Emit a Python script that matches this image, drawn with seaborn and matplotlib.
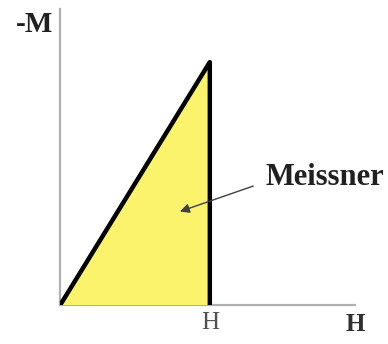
import matplotlib
matplotlib.use("Agg")
import matplotlib.pyplot as plt
import seaborn as sns
import pandas as pd

# Meissner state: -M rises linearly with H up to the critical field Hc
field = [0.0, 1.0, 1.0]        # H (in units of Hc)
neg_m = [0.0, 1.0, 0.0]        # -M (in units of -M at Hc)
hc_tick = [1.0]
hc_label = ["H"]

sns.set_style("white")
plt.rcParams['font.family'] = ['Liberation Serif', 'DejaVu Serif']

df = pd.DataFrame({"H": field, "negM": neg_m})

fig = plt.figure(figsize=(3.88, 3.44), dpi=100)
ax = fig.add_axes([0.155, 0.113, 0.760, 0.862])

ax.fill(df["H"], df["negM"], color="#faf36b", zorder=1)
sns.lineplot(data=df, x="H", y="negM", sort=False, estimator=None,
             color="black", linewidth=3.2, ax=ax, zorder=3)

ax.set_xlim(0, 1.97)
ax.set_ylim(0, 1.22)

for side in ["top", "right"]:
    ax.spines[side].set_visible(False)
for side in ["left", "bottom"]:
    ax.spines[side].set_color("#b0b0b0")
    ax.spines[side].set_linewidth(1.6)
    ax.spines[side].set_zorder(0)

ax.set_yticks([])
ax.set_xticks(hc_tick)
ax.set_xticklabels(hc_label, fontsize=18, color="#505050")
ax.tick_params(axis="x", length=0, pad=5)

ax.set_xlabel("H", fontsize=18, fontweight="bold", color="#303030",
              ha="center", va="top")
ax.xaxis.set_label_coords(1.0, -0.025)

ax.set_ylabel("-M", fontsize=21, fontweight="bold", rotation=0,
              ha="right", va="baseline", color="#202020")
ax.yaxis.set_label_coords(-0.024, 0.922)

ax.text(1.37, 0.496, "Meissner", fontsize=22, fontweight="bold",
        ha="left", va="baseline", color="#202020")
ax.annotate("", xy=(0.80, 0.385), xytext=(1.29, 0.49),
            arrowprops=dict(arrowstyle="-|>", color="#404040", lw=1.0,
                            mutation_scale=14, shrinkA=0, shrinkB=0))

fig.savefig("out.png", dpi=100)
